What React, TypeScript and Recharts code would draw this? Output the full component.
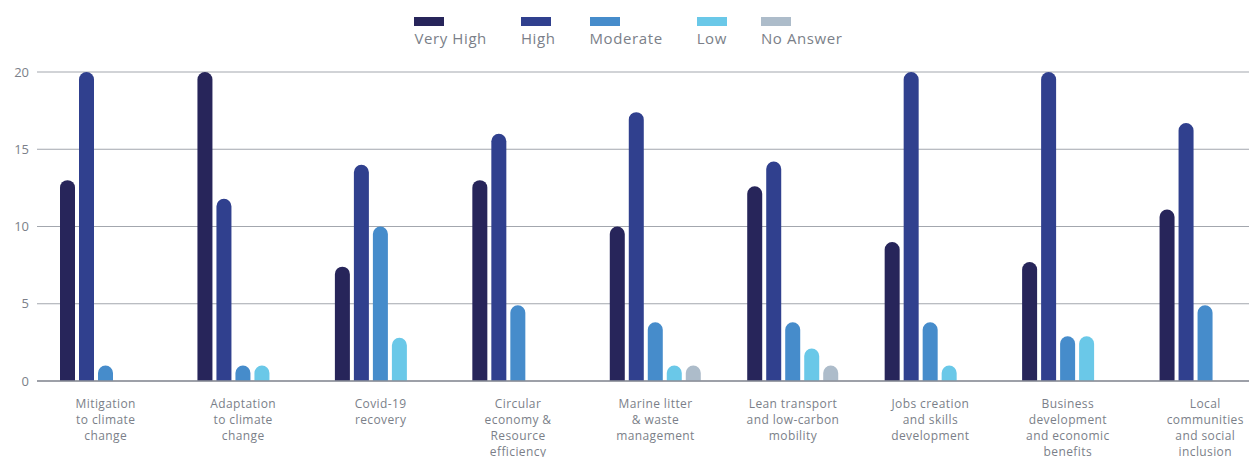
import React from 'react';
import { BarChart, Bar, XAxis, YAxis, CartesianGrid, Legend } from 'recharts';

// categories (tick labels keep the line breaks of the original)
const categories: string[] = [
    'Mitigation\nto climate\nchange',
    'Adaptation\nto climate\nchange',
    'Covid-19\nrecovery',
    'Circular\neconomy &\nResource\nefficiency',
    'Marine litter\n& waste\nmanagement',
    'Lean transport\nand low-carbon\nmobility',
    'Jobs creation\nand skills\ndevelopment',
    'Business\ndevelopment\nand economic\nbenefits',
    'Local\ncommunities\nand social\ninclusion',
];

const veryHigh: number[] = [13, 20, 7.4, 13, 10, 12.6, 9, 7.7, 11.1];
const high: number[] = [20, 11.8, 14, 16, 17.4, 14.2, 20, 20, 16.7];
const moderate: number[] = [1, 1, 10, 4.9, 3.8, 3.8, 3.8, 2.9, 4.9];
const low: number[] = [0, 1, 2.8, 0, 1, 2.1, 1, 2.9, 0];
const noAnswer: number[] = [0, 0, 0, 0, 1, 1, 0, 0, 0];

const yTicks: number[] = [0, 5, 10, 15, 20];

const seriesInfo = [
    { key: 'veryHigh', name: 'Very High', color: '#27255a' },
    { key: 'high', name: 'High', color: '#30408e' },
    { key: 'moderate', name: 'Moderate', color: '#468ccb' },
    { key: 'low', name: 'Low', color: '#6ac8e8' },
    { key: 'noAnswer', name: 'No Answer', color: '#adbcca' },
];

const data = categories.map((name, i) => ({
    name,
    veryHigh: veryHigh[i],
    high: high[i],
    moderate: moderate[i],
    low: low[i],
    noAnswer: noAnswer[i],
}));

const FONT = '"Open Sans", "Noto Sans", sans-serif';
const TEXT_COLOR = '#7b7f89';

const CategoryTick = (props: any) => {
    const { x, y, payload } = props;
    const lines: string[] = String(payload.value).split('\n');
    return (
        <text x={x} y={y} textAnchor="middle" fill={TEXT_COLOR} fontSize={12} fontFamily={FONT} letterSpacing={0.4}>
            {lines.map((l, i) => (
                <tspan key={i} x={x} dy={i === 0 ? 19 : 16}>{l}</tspan>
            ))}
        </text>
    );
};

const LegendContent = () => (
    <div style={{
        height: 72,
        boxSizing: 'border-box',
        paddingTop: 17,
        display: 'flex',
        justifyContent: 'center',
        gap: 34,
        fontFamily: FONT,
        fontSize: 15,
        letterSpacing: 0.6,
        color: TEXT_COLOR,
    }}>
        {seriesInfo.map((s) => (
            <div key={s.key} style={{ display: 'flex', flexDirection: 'column', alignItems: 'flex-start' }}>
                <div style={{ width: 30, height: 9, background: s.color }} />
                <div style={{ marginTop: 3, lineHeight: '18px', whiteSpace: 'nowrap' }}>{s.name}</div>
            </div>
        ))}
    </div>
);

export default function App() {
    return (
        <div style={{ position: 'absolute', left: 0, top: 0, width: 1249, height: 457, overflow: 'hidden', background: '#fff' }}>
            <BarChart
                width={1274}
                height={457}
                data={data}
                margin={{ top: 0, right: 0, left: 0, bottom: 0 }}
                barSize={15}
                barGap={4}
            >
                <Legend
                    verticalAlign="top"
                    content={<LegendContent />}
                    wrapperStyle={{ left: 4, width: 1249 }}
                />
                <CartesianGrid vertical={false} stroke="#a3a7ae" />
                <XAxis
                    dataKey="name"
                    interval={0}
                    height={76}
                    tickLine={false}
                    stroke="#8b8f98"
                    strokeWidth={1.5}
                    tick={<CategoryTick />}
                />
                <YAxis
                    width={37}
                    domain={[0, 20]}
                    ticks={yTicks}
                    axisLine={false}
                    tickLine={false}
                    tick={{ fill: TEXT_COLOR, fontSize: 13, fontFamily: FONT }}
                />
                {seriesInfo.map((s) => (
                    <Bar
                        key={s.key}
                        dataKey={s.key}
                        name={s.name}
                        fill={s.color}
                        radius={[7.5, 7.5, 0, 0]}
                        isAnimationActive={false}
                    />
                ))}
            </BarChart>
        </div>
    );
}
